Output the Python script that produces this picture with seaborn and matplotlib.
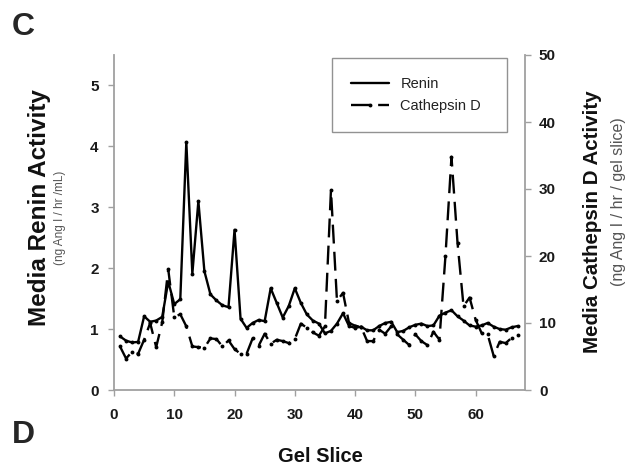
import numpy as np
import pandas as pd
import matplotlib
matplotlib.use("Agg")
import matplotlib.pyplot as plt
import seaborn as sns
from matplotlib.lines import Line2D

# ---- data ----
gel_slice = list(range(1, 68))
renin = [0.88, 0.81, 0.78, 0.79, 1.21, 1.12, 1.14, 1.20, 1.78, 1.41,
         1.49, 4.07, 1.91, 3.10, 1.95, 1.57, 1.47, 1.39, 1.36, 2.63,
         1.17, 1.02, 1.10, 1.15, 1.13, 1.67, 1.43, 1.19, 1.38, 1.67,
         1.43, 1.24, 1.14, 1.09, 0.93, 0.97, 1.09, 1.26, 1.05, 1.02,
         1.04, 0.98, 0.98, 1.05, 1.10, 1.12, 0.95, 0.97, 1.03, 1.07,
         1.09, 1.05, 1.06, 1.22, 1.27, 1.31, 1.21, 1.14, 1.06, 1.04,
         1.06, 1.10, 1.04, 1.00, 0.99, 1.03, 1.05]
cathepsin = [6.5, 4.7, 5.7, 5.4, 7.5, 10.0, 6.4, 10.1, 18.0, 10.9,
             11.3, 9.5, 6.5, 6.4, 6.3, 7.7, 7.6, 6.5, 7.4, 6.1,
             5.4, 5.4, 7.7, 6.6, 8.4, 6.9, 7.5, 7.3, 7.0, 7.6,
             9.9, 9.3, 8.6, 8.1, 9.5, 29.8, 13.3, 14.5, 10.0, 9.6,
             9.4, 7.3, 7.3, 9.0, 8.4, 9.5, 8.3, 7.5, 6.7, 8.3,
             7.3, 6.7, 8.7, 7.5, 20.0, 34.8, 22.0, 12.5, 13.8, 10.5,
             8.5, 8.3, 5.1, 7.2, 7.0, 7.8, 8.2]
x_ticks = [0, 10, 20, 30, 40, 50, 60]
left_ticks = [0, 1, 2, 3, 4, 5]
right_ticks = [0, 10, 20, 30, 40, 50]
series_names = ["Renin", "Cathepsin D"]

sns.set_style("white")
plt.rcParams['font.family'] = ['Liberation Sans', 'DejaVu Sans']

W, H = 638, 470
fig = plt.figure(figsize=(W / 100, H / 100), dpi=100)
ax = fig.add_axes([114 / W, 1 - 390 / H, 411 / W, 335 / H])
ax2 = ax.twinx()

df = pd.DataFrame({"slice": gel_slice, "renin": renin, "cath": cathepsin})

sns.lineplot(data=df, x="slice", y="renin", ax=ax, color="black", lw=1.7,
             marker="o", markersize=2.8, markeredgewidth=0, legend=False)
sns.lineplot(data=df, x="slice", y="cath", ax=ax2, color="black", lw=1.7,
             marker="o", markersize=2.8, markeredgewidth=0, legend=False)
ax2.lines[0].set_dashes([8, 3.5])

spine_c = "#a0a0a0"
ax.set_xlim(0, 68.2)
ax.set_ylim(0, 5.5)
ax2.set_ylim(0, 50)
ax.set_xticks(x_ticks)
ax.set_yticks(left_ticks)
ax2.set_yticks(right_ticks)
ax.set_xlabel("")
ax.set_ylabel("")
ax2.set_ylabel("")

for s in ["top", "right"]:
    ax.spines[s].set_visible(False)
for s in ["top", "left", "bottom"]:
    ax2.spines[s].set_visible(False)
for a, s in [(ax, "left"), (ax, "bottom"), (ax2, "right")]:
    a.spines[s].set_color(spine_c)
    a.spines[s].set_linewidth(1.3)

ax.tick_params(axis="x", direction="out", length=4, width=1, color=spine_c,
               labelsize=11, pad=9, bottom=True, labelcolor="#1a1a1a")
ax.tick_params(axis="y", direction="out", length=4, width=1, color=spine_c,
               labelsize=11, pad=7, left=True, labelcolor="#1a1a1a")
ax2.tick_params(axis="y", direction="out", length=4, width=1, color=spine_c,
                labelsize=11, pad=6, right=True, labelcolor="#1a1a1a")
for lab in ax.get_xticklabels() + ax.get_yticklabels() + ax2.get_yticklabels():
    lab.set_fontweight("bold")

handles = [Line2D([0], [0], color="black", lw=1.7),
           Line2D([0], [0], color="black", lw=1.7, dashes=[8, 3.5],
                  marker="o", markersize=2.8, markeredgewidth=0)]
leg = ax2.legend(handles, series_names, loc="upper left",
                 bbox_to_anchor=(0.530, 0.755, 0.426, 0.236), mode="expand",
                 borderaxespad=0, fontsize=10.5, frameon=True, fancybox=False,
                 borderpad=1.3, labelspacing=0.55, handlelength=2.6,
                 handletextpad=0.8, numpoints=1)
leg.get_frame().set_edgecolor("#777777")
leg.get_frame().set_linewidth(1.0)
for t in leg.get_texts():
    t.set_color("#222222")

def fx(px):
    return px / W

def fy(py):
    return 1 - py / H

fig.text(fx(40), fy(208), "Media Renin Activity", rotation=90, ha="center",
         va="center", fontsize=17.5, fontweight="bold", color="#111111")
fig.text(fx(60), fy(218), "(ng Ang I / hr /mL)", rotation=90, ha="center",
         va="center", fontsize=8.5, color="#555555")
fig.text(fx(592), fy(222), "Media Cathepsin D Activity", rotation=90,
         ha="center", va="center", fontsize=14.8, fontweight="bold",
         color="#111111")
fig.text(fx(619), fy(202), "(ng Ang I / hr / gel slice)", rotation=90,
         ha="center", va="center", fontsize=11.5, color="#555555")
fig.text(fx(320), fy(456), "Gel Slice", ha="center", va="center",
         fontsize=14.5, fontweight="bold", color="#111111")
fig.text(fx(12), fy(27), "C", ha="left", va="center", fontsize=23,
         fontweight="bold")
fig.text(fx(12), fy(435), "D", ha="left", va="center", fontsize=23,
         fontweight="bold")

fig.savefig("out.png", dpi=100)
